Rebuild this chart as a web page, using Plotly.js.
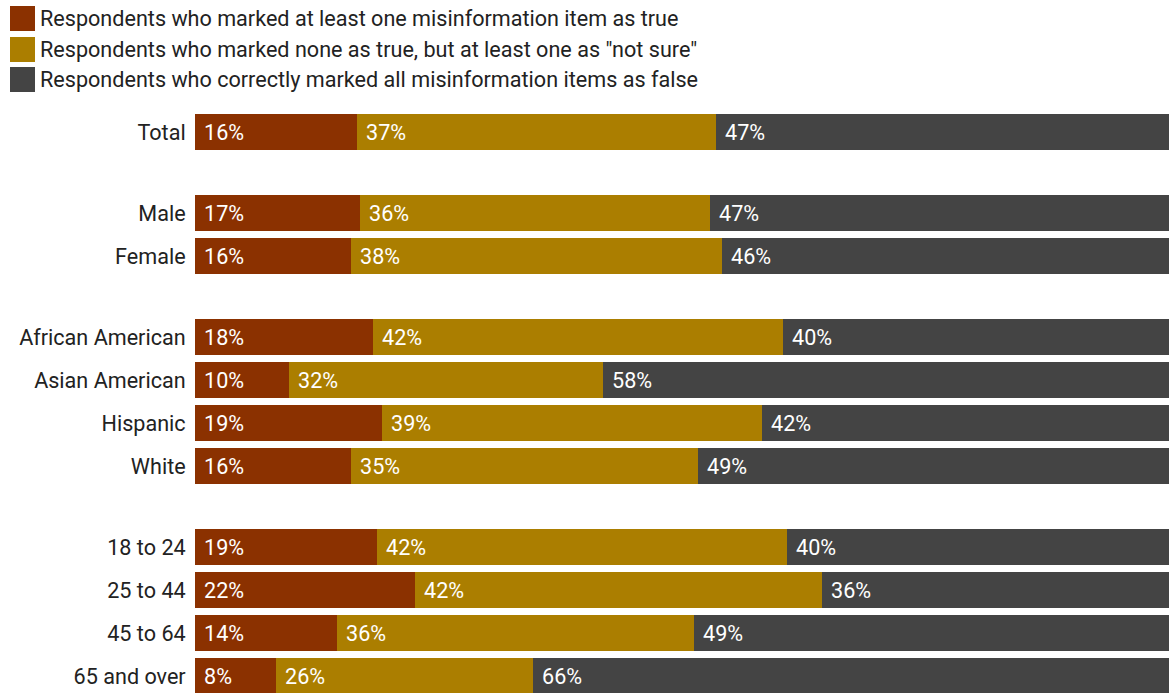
<!DOCTYPE html>
<html>
<head>
<meta charset="utf-8">
<script src="https://cdn.plot.ly/plotly-3.0.1.min.js"></script>
<style>html,body{margin:0;padding:0;background:#fff;}#chart{width:1169px;height:693px;}</style>
</head>
<body>
<div id="chart"></div>
<script>
const categories = ["Total","Male","Female","African American","Asian American","Hispanic","White","18 to 24","25 to 44","45 to 64","65 and over"];
const groups = [0,1,1,2,2,2,2,3,3,3,3];
const seriesNames = [
  "Respondents who marked at least one misinformation item as true",
  "Respondents who marked none as true, but at least one as \"not sure\"",
  "Respondents who correctly marked all misinformation items as false"
];
const markedTrue = [16.6,16.9,16.0,18.3,9.7,19.2,16.0,18.7,22.6,14.6,8.3];
const notSure    = [36.9,36.0,38.1,42.1,32.2,39.0,35.6,42.1,41.8,36.6,26.4];
const allFalse   = [46.5,47.1,45.9,39.6,58.1,41.8,48.4,39.2,35.6,48.8,65.3];
const labelsTrue    = ["16%","17%","16%","18%","10%","19%","16%","19%","22%","14%","8%"];
const labelsNotSure = ["37%","36%","38%","42%","32%","39%","35%","42%","42%","36%","26%"];
const labelsFalse   = ["47%","47%","46%","40%","58%","42%","49%","40%","36%","49%","66%"];
const colors = ["#8b3100","#ab7e00","#444444"];

const gap = 0.884;
const ypos = categories.map((c,i)=> i + groups[i]*gap);
const series = [markedTrue, notSure, allFalse];
const labels = [labelsTrue, labelsNotSure, labelsFalse];
const FONT = 'Roboto, "Noto Sans", sans-serif';
const FS = 21.6;

const traces = series.map((vals,k)=>({
  type:'bar', orientation:'h', y: ypos, x: vals, name: seriesNames[k],
  marker:{color: colors[k], line:{width:0}}, width:0.837,
  hoverinfo:'x+name', showlegend:false
}));

const annotations = [];
ypos.forEach((y,i)=>{
  let start = 0;
  series.forEach((vals,k)=>{
    annotations.push({x:start, y:y, xref:'x', yref:'y', text:labels[k][i], showarrow:false,
      xanchor:'left', yanchor:'middle', xshift:7, font:{family:FONT, size:FS, color:'#ffffff'}});
    start += vals[i];
  });
});

const plotTop = 110, plotH = 583;
const shapes = [];
const legendTop = [6, 37, 67];
seriesNames.forEach((n,k)=>{
  const t = legendTop[k];
  shapes.push({type:'rect', xref:'paper', yref:'paper', x0:(10-195)/974, x1:(35-195)/974,
    y0:(693-t-25)/plotH, y1:(693-t)/plotH, fillcolor:colors[k], line:{width:0}});
  annotations.push({xref:'paper', yref:'paper', x:(38-195)/974, y:(693-t-12.5)/plotH, text:n,
    showarrow:false, xanchor:'left', yanchor:'middle', font:{family:FONT, size:FS, color:'#222222'}});
});

const layout = {
  width:1169, height:693,
  margin:{l:195, r:0, t:plotTop, b:0, pad:0},
  paper_bgcolor:'#ffffff', plot_bgcolor:'#ffffff',
  barmode:'stack', showlegend:false,
  xaxis:{range:[0,100], visible:false, fixedrange:true},
  yaxis:{range:[(693-132)/43, (110-132)/43], tickvals: ypos, ticktext: categories,
    showgrid:false, zeroline:false, showline:false, ticks:'outside', ticklen:4, tickcolor:'rgba(0,0,0,0)',
    tickfont:{family:FONT, size:FS, color:'#222222'}},
  shapes: shapes, annotations: annotations
};
Plotly.newPlot('chart', traces, layout, {displayModeBar:false, staticPlot:true});
</script>
</body>
</html>
